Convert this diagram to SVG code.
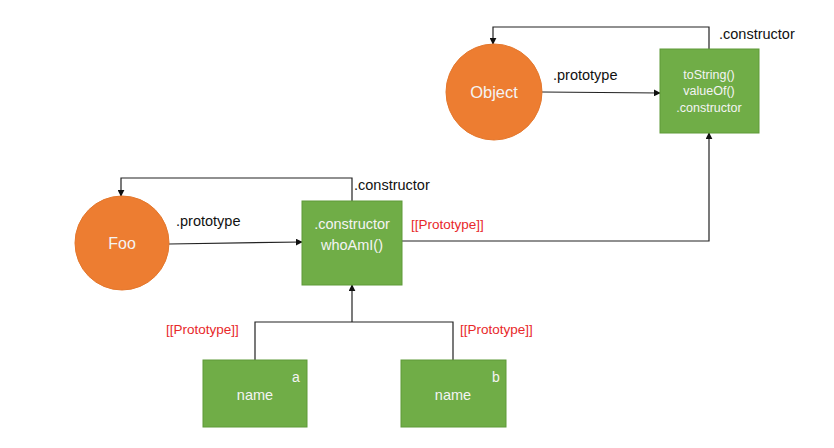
<svg xmlns="http://www.w3.org/2000/svg" width="834" height="448" viewBox="0 0 834 448">
<style>
.circ{fill:#ED7D31;stroke:#E4772C;stroke-width:1}
.box{fill:#70AD47;stroke:#5E9A38;stroke-width:1}
.wt{fill:#F4F4F4;font-family:"Liberation Sans",Arial,sans-serif;text-anchor:middle}
.lbl{fill:#111;font-family:"Liberation Sans",Arial,sans-serif;font-size:14.5px}
.red{fill:#E8282A;font-family:"Liberation Sans",Arial,sans-serif;font-size:13.5px}
.ln{fill:none;stroke:#222;stroke-width:1.2}
</style>
<defs>
<marker id="ah" viewBox="0 0 10 10" refX="9" refY="5" markerWidth="7" markerHeight="7" orient="auto" markerUnits="userSpaceOnUse">
<path d="M0,0 L10,5 L0,10 z" fill="#111"/>
</marker>
</defs>
<rect width="834" height="448" fill="#fff"/>
<g id="connectors">
<polyline class="ln" points="709,49 709,27 493,27 493,44" marker-end="url(#ah)"/>
<line class="ln" x1="542" y1="92" x2="660" y2="93" marker-end="url(#ah)"/>
<polyline class="ln" points="352,201 352,178 121,178 121,196" marker-end="url(#ah)"/>
<line class="ln" x1="169" y1="244" x2="302" y2="242" marker-end="url(#ah)"/>
<polyline class="ln" points="402,241 709,241 709,133" marker-end="url(#ah)"/>
<polyline class="ln" points="255,360 255,322 453,322 453,360"/>
<line class="ln" x1="352" y1="322" x2="352" y2="285" stroke-width="2" marker-end="url(#ah)"/>
<text class="lbl" x="719" y="39">.constructor</text>
<text class="lbl" x="553" y="80">.prototype</text>
<text class="lbl" x="354" y="190">.constructor</text>
<text class="lbl" x="176" y="226">.prototype</text>
<text class="red" x="411" y="229">[[Prototype]]</text>
<text class="red" x="166" y="334">[[Prototype]]</text>
<text class="red" x="460" y="334">[[Prototype]]</text>
</g>
<g id="object">
<circle class="circ" cx="494" cy="92" r="48"/>
<text class="wt" x="494" y="98" font-size="16.5">Object</text>
</g>
<g id="object-prototype">
<rect class="box" x="660" y="49" width="99" height="84"/>
<text class="wt" x="709" y="79" font-size="12.5">toString()</text>
<text class="wt" x="709" y="95" font-size="12.5">valueOf()</text>
<text class="wt" x="709" y="112" font-size="12.5">.constructor</text>
</g>
<g id="foo">
<circle class="circ" cx="122" cy="243" r="47"/>
<text class="wt" x="122" y="249" font-size="16">Foo</text>
</g>
<g id="foo-prototype">
<rect class="box" x="302" y="201" width="100" height="84"/>
<text class="wt" x="352" y="229" font-size="14.5">.constructor</text>
<text class="wt" x="352" y="250" font-size="14.5">whoAmI()</text>
</g>
<g id="a">
<rect class="box" x="203" y="360" width="104" height="67"/>
<text class="wt" x="296" y="382" font-size="14">a</text>
<text class="wt" x="255" y="400" font-size="14.5">name</text>
</g>
<g id="b">
<rect class="box" x="401" y="360" width="105" height="67"/>
<text class="wt" x="496" y="382" font-size="14">b</text>
<text class="wt" x="453" y="400" font-size="14.5">name</text>
</g>
</svg>
